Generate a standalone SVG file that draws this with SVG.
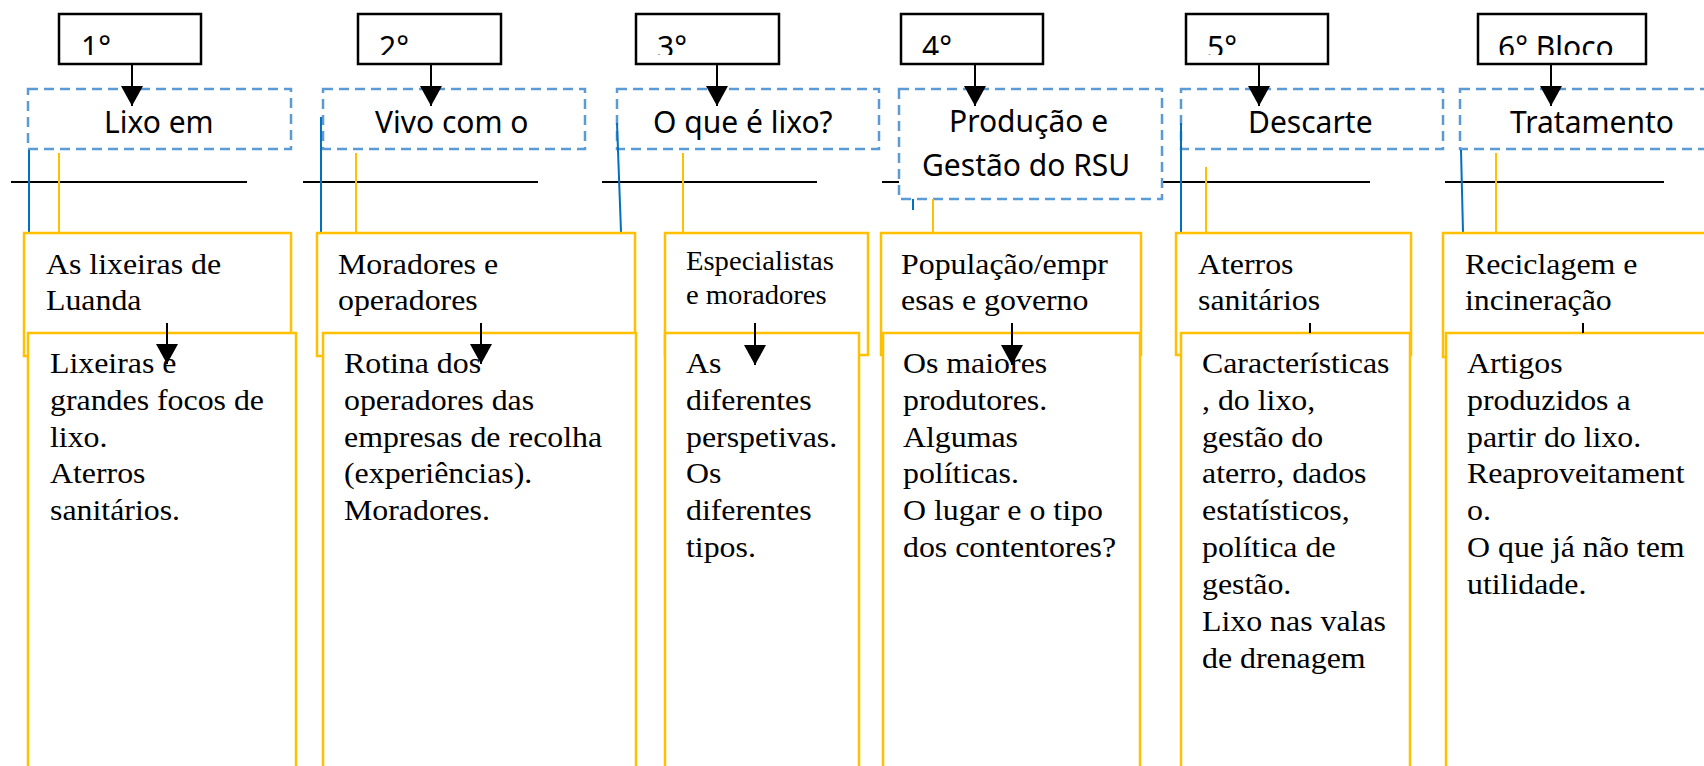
<svg xmlns="http://www.w3.org/2000/svg" width="1704" height="766" viewBox="0 0 1704 766">
<style>
.bk{fill:#fff;stroke:#000;stroke-width:2.5}
.ds{fill:#fff;stroke:#5B9BD5;stroke-width:2.5;stroke-dasharray:10 6}
.yb{fill:#fff;stroke:#FFC000;stroke-width:2.5}
.hl{stroke:#000;stroke-width:2;fill:none}
.bl{stroke:#0070C0;stroke-width:2;fill:none}
.yl{stroke:#FFC000;stroke-width:2;fill:none}
.ar{stroke:#000;stroke-width:2;fill:none}
.ar2{stroke:#000;stroke-width:2;fill:none;marker-end:url(#ah)}
.sans{font-family:"Noto Sans","DejaVu Sans",sans-serif;font-size:30px;fill:#000}
.ser{font-family:"Liberation Serif","Times New Roman",serif;font-size:29.5px;fill:#000}
.ser2{font-family:"Liberation Serif","Times New Roman",serif;font-size:26.5px;fill:#000}
</style>
<defs>
<marker id="ah" viewBox="0 0 20 22" refX="20" refY="11" markerWidth="20" markerHeight="22" markerUnits="userSpaceOnUse" orient="auto">
<path d="M0,0 L20,11 L0,22 z" fill="#000"/>
</marker>
<clipPath id="c1"><rect x="59" y="14" width="142" height="41"/></clipPath>
<clipPath id="c2"><rect x="358" y="14" width="143" height="41"/></clipPath>
<clipPath id="c3"><rect x="636" y="14" width="143" height="41"/></clipPath>
<clipPath id="c4"><rect x="901" y="14" width="142" height="41"/></clipPath>
<clipPath id="c5"><rect x="1186" y="14" width="142" height="41"/></clipPath>
<clipPath id="c6"><rect x="1478" y="14" width="168" height="41"/></clipPath>
</defs>
<rect width="1704" height="766" fill="#fff"/>

<g id="rules">
<line class="hl" x1="11" y1="182" x2="247" y2="182"/>
<line class="hl" x1="303" y1="182" x2="538" y2="182"/>
<line class="hl" x1="602" y1="182" x2="817" y2="182"/>
<line class="hl" x1="882" y1="182" x2="1370" y2="182"/>
<line class="hl" x1="1445" y1="182" x2="1664" y2="182"/>
</g>

<g id="block1">
<rect class="bk" x="59" y="14" width="142" height="50"/>
<text class="sans" x="81" y="58" clip-path="url(#c1)">1°</text>
</g>
<g id="block2">
<rect class="bk" x="358" y="14" width="143" height="50"/>
<text class="sans" x="379" y="58" clip-path="url(#c2)">2°</text>
</g>
<g id="block3">
<rect class="bk" x="636" y="14" width="143" height="50"/>
<text class="sans" x="657" y="58" clip-path="url(#c3)">3°</text>
</g>
<g id="block4">
<rect class="bk" x="901" y="14" width="142" height="50"/>
<text class="sans" x="922" y="58" clip-path="url(#c4)">4°</text>
</g>
<g id="block5">
<rect class="bk" x="1186" y="14" width="142" height="50"/>
<text class="sans" x="1207" y="58" clip-path="url(#c5)">5°</text>
</g>
<g id="block6">
<rect class="bk" x="1478" y="14" width="168" height="50"/>
<text class="sans" x="1498" y="58" clip-path="url(#c6)">6° Bloco</text>
</g>

<g id="theme1">
<rect class="ds" x="28" y="89" width="263" height="60"/>
<text class="sans" x="104" y="133">Lixo em</text>
</g>
<g id="theme2">
<rect class="ds" x="323" y="89" width="262" height="60"/>
<text class="sans" x="375" y="133">Vivo com o</text>
</g>
<g id="theme3">
<rect class="ds" x="617" y="89" width="262" height="60"/>
<text class="sans" x="653" y="133">O que é lixo?</text>
</g>
<g id="theme4">
<rect class="ds" x="899" y="89" width="263" height="110"/>
<text class="sans" x="949" y="132">Produção e</text>
<text class="sans" x="922" y="176">Gestão do RSU</text>
</g>
<g id="theme5">
<rect class="ds" x="1181" y="89" width="262" height="60"/>
<text class="sans" x="1248" y="133">Descarte</text>
</g>
<g id="theme6">
<rect class="ds" x="1460" y="89" width="262" height="60"/>
<text class="sans" x="1510" y="133">Tratamento</text>
</g>

<g id="connectors">
<line class="bl" x1="29" y1="150" x2="29" y2="232"/>
<line class="bl" x1="321" y1="117" x2="321" y2="232"/>
<line class="bl" x1="617" y1="123" x2="621" y2="232"/>
<line class="bl" x1="913" y1="199" x2="913" y2="210"/>
<line class="bl" x1="1181" y1="123" x2="1181" y2="232"/>
<line class="bl" x1="1461" y1="150" x2="1463" y2="232"/>
<line class="yl" x1="59" y1="153" x2="59" y2="232"/>
<line class="yl" x1="356" y1="153" x2="356" y2="232"/>
<line class="yl" x1="683" y1="153" x2="683" y2="232"/>
<line class="yl" x1="933" y1="199" x2="933" y2="232"/>
<line class="yl" x1="1206" y1="167" x2="1206" y2="232"/>
<line class="yl" x1="1496" y1="153" x2="1496" y2="232"/>
</g>

<g id="actors1">
<rect class="yb" x="24" y="233" width="267" height="123"/>
<text class="ser" transform="translate(46 0) scale(1.08 1)"><tspan x="0" y="274">As lixeiras de</tspan><tspan x="0" y="310">Luanda</tspan></text>
</g>
<g id="actors2">
<rect class="yb" x="317" y="233" width="318" height="123"/>
<text class="ser" transform="translate(338 0) scale(1.08 1)"><tspan x="0" y="274">Moradores e</tspan><tspan x="0" y="310">operadores</tspan></text>
</g>
<g id="actors3">
<rect class="yb" x="665" y="233" width="203" height="122"/>
<text class="ser2" transform="translate(686 0) scale(1.08 1)"><tspan x="0" y="270">Especialistas</tspan><tspan x="0" y="304">e moradores</tspan></text>
</g>
<g id="actors4">
<rect class="yb" x="881" y="233" width="260" height="122"/>
<text class="ser" transform="translate(901 0) scale(1.08 1)"><tspan x="0" y="274">População/empr</tspan><tspan x="0" y="310">esas e governo</tspan></text>
</g>
<g id="actors5">
<rect class="yb" x="1176" y="233" width="235" height="122"/>
<text class="ser" transform="translate(1198 0) scale(1.08 1)"><tspan x="0" y="274">Aterros</tspan><tspan x="0" y="310">sanitários</tspan></text>
</g>
<g id="actors6">
<rect class="yb" x="1443" y="233" width="300" height="124"/>
<text class="ser" transform="translate(1465 0) scale(1.08 1)"><tspan x="0" y="274">Reciclagem e</tspan><tspan x="0" y="310">incineração</tspan></text>
</g>

<g id="content1">
<rect class="yb" x="28" y="333" width="268" height="450"/>
<text class="ser" transform="translate(50 0) scale(1.08 1)"><tspan x="0" y="373">Lixeiras e</tspan><tspan x="0" y="410">grandes focos de</tspan><tspan x="0" y="447">lixo.</tspan><tspan x="0" y="483">Aterros</tspan><tspan x="0" y="520">sanitários.</tspan></text>
</g>
<g id="content2">
<rect class="yb" x="323" y="333" width="313" height="450"/>
<text class="ser" transform="translate(344 0) scale(1.08 1)"><tspan x="0" y="373">Rotina dos</tspan><tspan x="0" y="410">operadores das</tspan><tspan x="0" y="447">empresas de recolha</tspan><tspan x="0" y="483">(experiências).</tspan><tspan x="0" y="520">Moradores.</tspan></text>
</g>
<g id="content3">
<rect class="yb" x="665" y="333" width="194" height="450"/>
<text class="ser" transform="translate(686 0) scale(1.08 1)"><tspan x="0" y="373">As</tspan><tspan x="0" y="410">diferentes</tspan><tspan x="0" y="447">perspetivas.</tspan><tspan x="0" y="483">Os</tspan><tspan x="0" y="520">diferentes</tspan><tspan x="0" y="557">tipos.</tspan></text>
</g>
<g id="content4">
<rect class="yb" x="883" y="333" width="257" height="450"/>
<text class="ser" transform="translate(903 0) scale(1.08 1)"><tspan x="0" y="373">Os maiores</tspan><tspan x="0" y="410">produtores.</tspan><tspan x="0" y="447">Algumas</tspan><tspan x="0" y="483">políticas.</tspan><tspan x="0" y="520">O lugar e o tipo</tspan><tspan x="0" y="557">dos contentores?</tspan></text>
</g>
<g id="content5">
<rect class="yb" x="1181" y="333" width="229" height="450"/>
<text class="ser" transform="translate(1202 0) scale(1.08 1)"><tspan x="0" y="373">Características</tspan><tspan x="0" y="410">, do lixo,</tspan><tspan x="0" y="447">gestão do</tspan><tspan x="0" y="483">aterro, dados</tspan><tspan x="0" y="520">estatísticos,</tspan><tspan x="0" y="557">política de</tspan><tspan x="0" y="594">gestão.</tspan><tspan x="0" y="631">Lixo nas valas</tspan><tspan x="0" y="668">de drenagem</tspan></text>
</g>
<g id="content6">
<rect class="yb" x="1446" y="333" width="300" height="450"/>
<text class="ser" transform="translate(1467 0) scale(1.08 1)"><tspan x="0" y="373">Artigos</tspan><tspan x="0" y="410">produzidos a</tspan><tspan x="0" y="447">partir do lixo.</tspan><tspan x="0" y="483">Reaproveitament</tspan><tspan x="0" y="520">o.</tspan><tspan x="0" y="557">O que já não tem</tspan><tspan x="0" y="594">utilidade.</tspan></text>
</g>

<g id="arrows">
<line class="ar2" x1="132" y1="64" x2="132" y2="106"/>
<line class="ar2" x1="431" y1="64" x2="431" y2="106"/>
<line class="ar2" x1="717" y1="64" x2="717" y2="106"/>
<line class="ar2" x1="975" y1="64" x2="975" y2="106"/>
<line class="ar2" x1="1259" y1="64" x2="1259" y2="106"/>
<line class="ar2" x1="1551" y1="64" x2="1551" y2="106"/>
<line class="ar2" x1="167" y1="323" x2="167" y2="364"/>
<line class="ar2" x1="481" y1="323" x2="481" y2="364"/>
<line class="ar2" x1="755" y1="323" x2="755" y2="365"/>
<line class="ar2" x1="1012" y1="323" x2="1012" y2="365"/>
<line class="ar" x1="1310" y1="323" x2="1310" y2="333"/>
<line class="ar" x1="1583" y1="323" x2="1583" y2="333"/>
</g>
</svg>
